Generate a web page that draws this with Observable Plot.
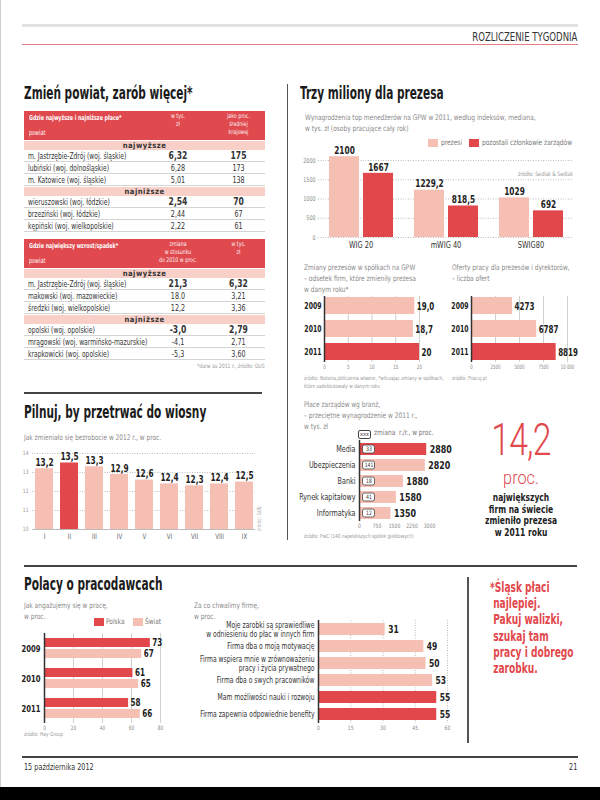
<!DOCTYPE html>
<html><head><meta charset="utf-8">
<script src="https://cdn.jsdelivr.net/npm/d3@7"></script>
<script src="https://cdn.jsdelivr.net/npm/@observablehq/plot@0.6"></script>
<style>
html,body{margin:0;padding:0;background:#fff;}
#page{position:relative;width:600px;height:800px;overflow:hidden;background:#fff;font-family:'DejaVu Sans Condensed','Liberation Sans',sans-serif;color:#333;}
</style></head>
<body><div id="page"></div>
<script>
const F = "'DejaVu Sans Condensed','Liberation Sans',sans-serif";
const RED = "#e2474c", PINK = "#f6bfb4", BAND = "#f8d0c8", HEAD = "#e04a4f";

// ---------- DATA ----------
// Tabela 1: najwyższe i najniższe płace
const placeNajwyzszePowiat = ["m. Jastrzębie-Zdrój (woj. śląskie)", "lubiński (woj. dolnośląskie)", "m. Katowice (woj. śląskie)"];
const placeNajwyzszeTys = ["6,32", "6,28", "5,01"];
const placeNajwyzszeProc = ["175", "173", "138"];
const placeNajnizszePowiat = ["wieruszowski (woj. łódzkie)", "brzeziński (woj. łódzkie)", "kępiński (woj. wielkopolskie)"];
const placeNajnizszeTys = ["2,54", "2,44", "2,22"];
const placeNajnizszeProc = ["70", "67", "61"];
// Tabela 2: największy wzrost / spadek
const wzrostPowiat = ["m. Jastrzębie-Zdrój (woj. śląskie)", "makowski (woj. mazowieckie)", "średzki (woj. wielkopolskie)"];
const wzrostZmiana = ["21,3", "18.0", "12,2"];
const wzrostTys = ["6,32", "3,21", "3,36"];
const spadekPowiat = ["opolski (woj. opolskie)", "mrągowski (woj. warmińsko-mazurskie)", "krapkowicki (woj. opolskie)"];
const spadekZmiana = ["-3,0", "-4,1", "-5,3"];
const spadekTys = ["2,79", "2,71", "3,60"];

// Trzy miliony dla prezesa
const wigIndeksy = ["WIG 20", "mWIG 40", "SWIG80"];
const wigSerie = ["prezesi", "pozostali członkowie zarządów"];
const wigPrezesi = [2100, 1229.2, 1029];
const wigPozostali = [1667, 818.5, 692];
const wigTicks = [0, 500, 1000, 1500, 2000];

// Zmiany prezesów
const zmianyLata = ["2009", "2010", "2011"];
const zmianyOdsetek = [19.0, 18.7, 20];
const zmianyEtykiety = ["19,0", "18,7", "20"];
const zmianyTicks = [0, 5, 10, 15, 20];

// Oferty pracy
const ofertyLata = ["2009", "2010", "2011"];
const ofertyLiczba = [4273, 6787, 8819];
const ofertyTicks = [0, 2500, 5000, 7500, 10000];

// Bezrobocie 2012
const miesiace = ["I", "II", "III", "IV", "V", "VI", "VII", "VIII", "IX"];
const bezrobocie = [13.2, 13.5, 13.3, 12.9, 12.6, 12.4, 12.3, 12.4, 12.5];
const bezrobocieWyroznione = ["II"];
const bezrobocieTicks = [10, 11, 12, 13, 14];

// Płace zarządów wg branż
const branze = ["Media", "Ubezpieczenia", "Banki", "Rynek kapitałowy", "Informatyka"];
const branzePlace = [2880, 2820, 1880, 1580, 1350];
const branzeZmiana = [33, 141, 18, 41, 12];
const branzeTicks = [0, 750, 1500, 2250, 3000];

// Jak angażujemy się w pracę
const zaangLata = ["2009", "2010", "2011"];
const zaangSerie = ["Polska", "Świat"];
const zaangPolska = [73, 61, 58];
const zaangSwiat = [67, 65, 66];
const zaangTicks = [0, 20, 40, 60, 80];

// Za co chwalimy firmę
const pochwaly = ["Moje zarobki są sprawiedliwe\nw odniesieniu do płac w innych firm", "Firma dba o moją motywację", "Firma wspiera mnie w zrównoważeniu\npracy i życia prywatnego", "Firma dba o swych pracowników", "Mam możliwości nauki i rozwoju", "Firma zapewnia odpowiednie benefity"];
const pochwalyProc = [31, 49, 50, 53, 55, 55];
const pochwalyWyroznione = [false, false, false, false, true, true];
const pochwalyTicks = [0, 15, 30, 45, 60];

// ---------- HELPERS ----------
const page = document.getElementById("page");
function box(css) { const d = document.createElement("div"); d.style.cssText = "position:absolute;" + css; page.appendChild(d); return d; }
function txt(s, o) {
  const lh = o.lh || o.size * 1.15;
  const d = document.createElement("div");
  d.textContent = s;
  let css = `position:absolute;white-space:pre;font-size:${o.size}px;line-height:${lh}px;color:${o.color || "#333"};font-weight:${o.weight || "normal"};top:${o.cy - lh / 2}px;`;
  if (o.left != null) css += `left:${o.left}px;`;
  if (o.right != null) css += `right:${o.right}px;text-align:right;`;
  if (o.width != null) css += `width:${o.width}px;`;
  if (o.align) css += `text-align:${o.align};`;
  if (o.sx) css += `transform:scaleX(${o.sx});transform-origin:${o.right != null ? "right" : (o.align === "center" ? "center" : "left")} center;`;
  if (o.family) css += `font-family:${o.family};`;
  if (o.extra) css += o.extra;
  d.style.cssText = css;
  page.appendChild(d);
  return d;
}
function lines(arr, o) { const lh = o.lh || o.size * 1.15; arr.forEach((s, i) => txt(s, {...o, cy: o.cy + i * lh})); }
function put(svg, left, top) { svg.style.position = "absolute"; svg.style.left = left + "px"; svg.style.top = top + "px"; page.appendChild(svg); return svg; }
function styleAxis(svg, prefix, css) { svg.querySelectorAll(`g[aria-label^="${prefix}"] text`).forEach(t => Object.assign(t.style, css)); }
// narrow the glyphs of every SVG text (the reference uses a condensed face)
function condense(svg, f) {
  svg.querySelectorAll("text").forEach(t => {
    const spans = t.querySelectorAll("tspan");
    const targets = spans.length ? Array.from(spans) : [t];
    targets.forEach(el => {
      const L = el.getComputedTextLength();
      if (L > 0) { el.setAttribute("textLength", (L * f).toFixed(2)); el.setAttribute("lengthAdjust", "spacingAndGlyphs"); }
    });
  });
}
const baseStyle = {fontFamily: F, fontSize: "7px", color: "#777", background: "transparent", overflow: "visible"};
const comma = v => String(v).replace(".", ",");
const SUBSX = 0.86;

// ---------- PAGE FRAME ----------
box("left:0;top:0;width:1px;height:787px;background:#cfcfcf;");
box("left:22px;top:24px;width:556px;height:3px;background:#e2e2e2;");
box("left:22px;top:44px;width:556px;height:1px;background:#e77b7e;");
txt("ROZLICZENIE TYGODNIA", {right: 23, cy: 37, size: 12.5, color: "#333", sx: 0.76});
box("left:287px;top:84px;width:1px;height:456px;background:#555;");
box("left:24px;top:392px;width:238px;height:1.5px;background:#444;");
box("left:24px;top:565px;width:553px;height:1.5px;background:#444;");
box("left:467px;top:577px;width:1.5px;height:166px;background:#555;");
box("left:22px;top:756px;width:556px;height:2px;background:#444;");
txt("15 października 2012", {left: 24, cy: 767, size: 9, color: "#333", sx: 0.8});
txt("21", {right: 23, cy: 767, size: 9, color: "#333", sx: 0.8});
box("left:0;top:787px;width:600px;height:13px;background:#000;");

const titleOpts = {size: 17, lh: 19, weight: "bold", color: "#1b1b1b", sx: 0.69};
txt("Zmień powiat, zarób więcej*", {...titleOpts, left: 24, cy: 93});
txt("Trzy miliony dla prezesa", {...titleOpts, left: 300, cy: 93});
txt("Pilnuj, by przetrwać do wiosny", {...titleOpts, left: 24, cy: 412});
txt("Polacy o pracodawcach", {...titleOpts, left: 24, cy: 584});

// ---------- TABLES ----------
function cell(text, css) { const d = document.createElement("div"); d.textContent = text; d.style.cssText = css; return d; }
function buildTable(top, head, groups) {
  const wrap = box(`left:24px;top:${top}px;width:241px;`);
  const h = document.createElement("div");
  h.style.cssText = `position:relative;height:29px;background:${HEAD};color:#fff;`;
  h.append(
    cell(head.title, "position:absolute;left:5px;top:3px;font-size:6.8px;font-weight:bold;white-space:nowrap;transform:scaleX(0.78);transform-origin:left center;"),
    cell("powiat", "position:absolute;left:5px;bottom:3px;font-size:6.8px;transform:scaleX(0.8);transform-origin:left center;"),
    cell(head.col2, "position:absolute;left:120px;width:68px;top:2px;font-size:6.4px;line-height:7.8px;text-align:center;white-space:pre;opacity:.92;transform:scaleX(0.82);"),
    cell(head.col3, "position:absolute;left:188px;width:53px;top:2px;font-size:6.4px;line-height:7.8px;text-align:center;white-space:pre;opacity:.92;transform:scaleX(0.82);")
  );
  wrap.appendChild(h);
  groups.forEach(g => {
    wrap.appendChild(cell(g.name, `margin-top:1px;height:9px;line-height:9.5px;background:${BAND};text-align:center;font-size:7.6px;font-weight:bold;color:#333;letter-spacing:0.5px;`));
    g.names.forEach((n, i) => {
      const r = document.createElement("div");
      r.style.cssText = "display:flex;align-items:center;height:12px;box-sizing:border-box;border-bottom:1px solid #d4d4d4;font-size:8.4px;color:#333;";
      const bold = i === 0 ? "font-weight:bold;font-size:10px;" : "";
      r.append(
        cell(n, "width:115px;padding-left:5px;white-space:nowrap;transform:scaleX(0.8);transform-origin:left center;"),
        cell(g.c2[i], `width:68px;text-align:center;transform:scaleX(0.85);${bold}`),
        cell(g.c3[i], `width:53px;text-align:center;transform:scaleX(0.85);${bold}`)
      );
      wrap.appendChild(r);
    });
  });
}
buildTable(111, {title: "Gdzie najwyższe i najniższe płace*", col2: "w tys.\nzł", col3: "jako proc.\nśredniej\nkrajowej"}, [
  {name: "najwyższe", names: placeNajwyzszePowiat, c2: placeNajwyzszeTys, c3: placeNajwyzszeProc},
  {name: "najniższe", names: placeNajnizszePowiat, c2: placeNajnizszeTys, c3: placeNajnizszeProc}
]);
buildTable(239, {title: "Gdzie największy wzrost/spadek*", col2: "zmiana\nw stosunku\ndo 2010 w proc.", col3: "w tys.\nzł"}, [
  {name: "najwyższe", names: wzrostPowiat, c2: wzrostZmiana, c3: wzrostTys},
  {name: "najniższe", names: spadekPowiat, c2: spadekZmiana, c3: spadekTys}
]);
txt("*dane za 2011 r., źródło: GUS", {right: 335, cy: 366, size: 6, color: "#999", sx: 0.85});

// ---------- CHART A: Trzy miliony ----------
const subOpts = {size: 7.6, lh: 11, color: "#8a8a8a", sx: SUBSX};
lines(["Wynagrodzenia top menedżerów na GPW w 2011, według indeksów, mediana,", "w tys. zł (osoby pracujące cały rok)"], {...subOpts, left: 305, cy: 117});
box(`left:428px;top:139px;width:10px;height:8px;background:${PINK};`);
txt("prezesi", {left: 441, cy: 143, size: 7.6, color: "#777", sx: SUBSX});
box(`left:469px;top:139px;width:10px;height:8px;background:${RED};`);
txt("pozostali członkowie zarządów", {left: 482, cy: 143, size: 7.6, color: "#777", sx: SUBSX});
txt("źródło: Sedlak & Sedlak", {right: 27, cy: 174, size: 6, color: "#999", sx: SUBSX});

const rowsA = wigIndeksy.flatMap((k, i) => [
  {indeks: k, seria: wigSerie[0], v: wigPrezesi[i]},
  {indeks: k, seria: wigSerie[1], v: wigPozostali[i]}
]);
const svgA = Plot.plot({
  width: 283, height: 113, marginLeft: 23, marginRight: 5, marginTop: 20, marginBottom: 16,
  style: baseStyle,
  facet: {data: rowsA, x: "indeks"},
  fx: {domain: wigIndeksy, padding: 0, axis: "bottom", label: null, tickSize: 0, tickPadding: 4},
  x: {domain: wigSerie, paddingInner: 0.12, paddingOuter: 0.3, axis: null},
  y: {domain: [0, 2000], ticks: wigTicks, tickSize: 0, tickPadding: 3, label: null, tickFormat: d => String(d)},
  color: {domain: wigSerie, range: [PINK, RED]},
  marks: [
    Plot.ruleY(wigTicks, {stroke: "#aaa", strokeWidth: 0.8, strokeDasharray: "1,1.5"}),
    Plot.barY(rowsA, {x: "seria", y: "v", fill: "seria"}),
    Plot.text(rowsA, {x: "seria", y: "v", text: d => comma(d.v), dy: -6, fontWeight: "bold", fontSize: 10, fill: "#222"})
  ]
});
styleAxis(svgA, "fx-axis", {fontSize: "9px", fill: "#333"});
styleAxis(svgA, "y-axis", {fontSize: "6.5px", fill: "#888"});
put(svgA, 295, 140); condense(svgA, 0.82);

// ---------- CHART B: Zmiany prezesów ----------
lines(["Zmiany prezesów w spółkach na GPW", "– odsetek firm, które zmieniły prezesa", "w danym roku*"], {...subOpts, left: 304, cy: 267});
lines(["źródło: Notoria,obliczenia własne, *wliczając zmiany w spółkach,", "które zadebiutowały w danym roku"], {left: 304, cy: 378, size: 5.6, lh: 8.5, color: "#999", sx: SUBSX});
const rowsB = zmianyLata.map((r, i) => ({rok: r, v: zmianyOdsetek[i], label: zmianyEtykiety[i]}));
const svgB = Plot.plot({
  width: 144, height: 82, marginLeft: 29, marginRight: 20, marginTop: 4, marginBottom: 12,
  style: baseStyle,
  x: {domain: [0, 20], ticks: zmianyTicks, tickSize: 0, tickPadding: 2, label: null},
  y: {domain: zmianyLata, paddingInner: 0.26, paddingOuter: 0.06, tickSize: 0, tickPadding: 3, label: null},
  color: {domain: zmianyLata, range: [PINK, PINK, RED]},
  marks: [
    Plot.ruleX(zmianyTicks.slice(1), {stroke: "#d0d0d0"}),
    Plot.barX(rowsB, {x: "v", y: "rok", fill: "rok"}),
    Plot.ruleX([0], {stroke: "#333", strokeWidth: 1.5}),
    Plot.text(rowsB, {x: "v", y: "rok", text: "label", dx: 2, textAnchor: "start", fontWeight: "bold", fontSize: 11, fill: "#222"})
  ]
});
styleAxis(svgB, "y-axis", {fontSize: "9.5px", fontWeight: "bold", fill: "#222"});
styleAxis(svgB, "x-axis", {fontSize: "6px", fill: "#888"});
put(svgB, 295, 292); condense(svgB, 0.72);

// ---------- CHART C: Oferty pracy ----------
lines(["Oferty pracy dla prezesów i dyrektorów,", "– liczba ofert"], {...subOpts, left: 452, cy: 267});
txt("źródło: Pracuj.pl", {left: 452, cy: 378, size: 5.6, color: "#999", sx: SUBSX});
const rowsC = ofertyLata.map((r, i) => ({rok: r, v: ofertyLiczba[i]}));
const svgC = Plot.plot({
  width: 150, height: 82, marginLeft: 24, marginRight: 30, marginTop: 4, marginBottom: 12,
  style: baseStyle,
  x: {domain: [0, 10000], ticks: ofertyTicks, tickSize: 0, tickPadding: 2, label: null, tickFormat: d => d >= 10000 ? d3.format(",")(d).replace(/,/g, " ") : String(d)},
  y: {domain: ofertyLata, paddingInner: 0.26, paddingOuter: 0.06, tickSize: 0, tickPadding: 3, label: null},
  color: {domain: ofertyLata, range: [PINK, PINK, RED]},
  marks: [
    Plot.ruleX(ofertyTicks.slice(1), {stroke: "#d0d0d0"}),
    Plot.barX(rowsC, {x: "v", y: "rok", fill: "rok"}),
    Plot.ruleX([0], {stroke: "#333", strokeWidth: 1.5}),
    Plot.text(rowsC, {x: "v", y: "rok", text: d => String(d.v), dx: 2, textAnchor: "start", fontWeight: "bold", fontSize: 11, fill: "#222"})
  ]
});
styleAxis(svgC, "y-axis", {fontSize: "9.5px", fontWeight: "bold", fill: "#222"});
styleAxis(svgC, "x-axis", {fontSize: "6px", fill: "#888"});
put(svgC, 447, 292); condense(svgC, 0.72);

// ---------- CHART D: Bezrobocie ----------
txt("Jak zmieniało się bezrobocie w 2012 r., w proc.", {...subOpts, left: 24, cy: 437});
txt("źródło: GUS", {left: 259, cy: 531, size: 5.5, color: "#aaa", extra: "transform:rotate(-90deg) scaleX(0.85);transform-origin:left center;"});
const rowsD = miesiace.map((m, i) => ({m, v: bezrobocie[i], w: bezrobocieWyroznione.includes(m) ? "tak" : "nie"}));
const svgD = Plot.plot({
  width: 260, height: 98, marginLeft: 32, marginRight: 5, marginTop: 8, marginBottom: 14,
  style: baseStyle,
  x: {domain: miesiace, paddingInner: 0.29, paddingOuter: 0.06, tickSize: 0, tickPadding: 4, label: null},
  y: {domain: [10, 14], clamp: true, ticks: bezrobocieTicks, tickSize: 0, tickPadding: 4, label: null, tickFormat: d => String(d)},
  color: {domain: ["nie", "tak"], range: [PINK, RED]},
  marks: [
    Plot.ruleY(bezrobocieTicks.slice(1), {stroke: "#aaa", strokeWidth: 0.8, strokeDasharray: "1,1.5"}),
    Plot.ruleY([10], {stroke: "#bbb"}),
    Plot.barY(rowsD, {x: "m", y: "v", fill: "w"}),
    Plot.text(rowsD, {x: "m", y: "v", text: d => comma(d.v), dy: -6, fontWeight: "bold", fontSize: 10, fill: "#222"})
  ]
});
styleAxis(svgD, "x-axis", {fontSize: "7.5px", fill: "#666"});
styleAxis(svgD, "y-axis", {fontSize: "6px", fill: "#999"});
put(svgD, 0, 445); condense(svgD, 0.82);

// ---------- CHART E: Płace zarządów ----------
lines(["Płace zarządów wg branż,", "– przeciętne wynagrodzenie w 2011 r.,", "w tys. zł"], {...subOpts, left: 304, cy: 404});
txt("xxx", {left: 358, cy: 433, size: 5.5, lh: 7, color: "#333", width: 13, align: "center", extra: "border:0.8px solid #444;border-radius:2px;box-sizing:border-box;"});
txt("zmiana  r./r., w proc.", {left: 374, cy: 433, size: 7.6, color: "#777", sx: SUBSX});
txt("źródło: PwC (140 największych spółek giełdowych)", {left: 304, cy: 536, size: 5.6, color: "#999", sx: SUBSX});
const rowsE = branze.map((b, i) => ({b, v: branzePlace[i], z: branzeZmiana[i]}));
const svgE = Plot.plot({
  width: 169, height: 95, marginLeft: 64, marginRight: 35, marginTop: 4, marginBottom: 10,
  style: baseStyle,
  x: {domain: [0, 3000], ticks: branzeTicks, tickSize: 0, tickPadding: 2, label: null, tickFormat: d => String(d)},
  y: {domain: branze, paddingInner: 0.25, paddingOuter: 0.1, tickSize: 0, tickPadding: 4, label: null},
  color: {domain: branze, range: [RED, PINK, PINK, PINK, PINK]},
  marks: [
    Plot.barX(rowsE, {x: "v", y: "b", fill: "b"}),
    Plot.barX(rowsE, {x1: 0, x2: 0, y: "b", insetLeft: 3.5, insetRight: -15.5, insetTop: 2, insetBottom: 2, rx: 2, fill: "white", stroke: "#444", strokeWidth: 0.8}),
    Plot.text(rowsE, {x: 0, y: "b", text: d => String(d.z), dx: 9.5, fontSize: 6, fill: "#333"}),
    Plot.ruleX([0], {stroke: "#333", strokeWidth: 1.5}),
    Plot.text(rowsE, {x: "v", y: "b", text: d => String(d.v), dx: 3, textAnchor: "start", fontWeight: "bold", fontSize: 10.5, fill: "#222"})
  ]
});
styleAxis(svgE, "y-axis", {fontSize: "8.5px", fill: "#333"});
styleAxis(svgE, "x-axis", {fontSize: "6px", fill: "#888"});
put(svgE, 295, 436); condense(svgE, 0.84);

// 14,2 proc.
txt("14,2", {left: 471, width: 100, align: "center", cy: 440, size: 45, lh: 34, color: RED, weight: 300, family: "Roboto,'Open Sans',sans-serif", sx: 0.75, extra: "letter-spacing:-1px;"});
txt("proc.", {left: 471, width: 100, align: "center", cy: 478, size: 18.5, lh: 16, color: RED, weight: 300, family: "Roboto,'Open Sans',sans-serif", sx: 0.88});
lines(["największych", "firm na świecie", "zmieniło prezesa", "w 2011 roku"], {left: 471, width: 100, align: "center", cy: 498, size: 10.5, lh: 11.5, weight: "bold", color: "#222", sx: 0.8});

// ---------- CHART F: Jak angażujemy się ----------
lines(["Jak angażujemy się w pracę,", "w proc."], {...subOpts, left: 24, cy: 605});
box(`left:94px;top:618px;width:10px;height:8px;background:${RED};`);
txt("Polska", {left: 106, cy: 622, size: 7.6, color: "#777", sx: SUBSX});
box(`left:133px;top:618px;width:10px;height:8px;background:${PINK};`);
txt("Świat", {left: 145, cy: 622, size: 7.6, color: "#777", sx: SUBSX});
txt("źródło: Hay Group", {left: 24, cy: 734, size: 5.6, color: "#999", sx: SUBSX});
const rowsF = zaangLata.flatMap((r, i) => [
  {rok: r, s: zaangSerie[0], v: zaangPolska[i]},
  {rok: r, s: zaangSerie[1], v: zaangSwiat[i]}
]);
const svgF = Plot.plot({
  width: 176, height: 106, marginLeft: 44, marginRight: 16, marginTop: 4, marginBottom: 10,
  style: baseStyle,
  facet: {data: rowsF, y: "rok"},
  fy: {domain: zaangLata, padding: 0, axis: "left", label: null, tickSize: 0, tickPadding: 4},
  y: {domain: zaangSerie, paddingInner: 0.17, paddingOuter: 0.35, axis: null},
  x: {domain: [0, 80], ticks: zaangTicks, tickSize: 0, tickPadding: 2, label: null},
  color: {domain: zaangSerie, range: [RED, PINK]},
  marks: [
    Plot.ruleX(zaangTicks.slice(1), {stroke: "#d0d0d0"}),
    Plot.barX(rowsF, {x: "v", y: "s", fill: "s"}),
    Plot.ruleX([0], {stroke: "#333", strokeWidth: 1.5}),
    Plot.text(rowsF, {x: "v", y: "s", text: d => String(d.v), dx: 2, textAnchor: "start", fontWeight: "bold", fontSize: 10, fill: "#222"})
  ]
});
styleAxis(svgF, "fy-axis", {fontSize: "9.5px", fontWeight: "bold", fill: "#222"});
styleAxis(svgF, "x-axis", {fontSize: "6px", fill: "#888"});
put(svgF, 0, 628); condense(svgF, 0.8);

// ---------- CHART G: Za co chwalimy firmę ----------
lines(["Za co chwalimy firmę,", "w proc."], {...subOpts, left: 194, cy: 605});
const rowsG = pochwaly.map((p, i) => ({p, v: pochwalyProc[i], h: pochwalyWyroznione[i] ? "tak" : "nie"}));
const svgG = Plot.plot({
  width: 275, height: 117, marginLeft: 128, marginRight: 18, marginTop: 4, marginBottom: 10,
  style: baseStyle,
  x: {domain: [0, 60], ticks: pochwalyTicks, tickSize: 0, tickPadding: 2, label: null},
  y: {domain: pochwaly, paddingInner: 0.27, paddingOuter: 0.13, axis: null},
  color: {domain: ["nie", "tak"], range: [PINK, RED]},
  marks: [
    Plot.ruleX(pochwalyTicks.slice(1), {stroke: "#aaa", strokeWidth: 0.8, strokeDasharray: "1,1.5"}),
    Plot.barX(rowsG, {x: "v", y: "p", fill: "h"}),
    Plot.ruleX([0], {stroke: "#333", strokeWidth: 1.5}),
    Plot.text(rowsG, {x: 0, y: "p", text: "p", dx: -4, textAnchor: "end", fontSize: 8, lineHeight: 1.1, fill: "#333"}),
    Plot.text(rowsG, {x: "v", y: "p", text: d => String(d.v), dx: 3, textAnchor: "start", fontWeight: "bold", fontSize: 10, fill: "#222"})
  ]
});
styleAxis(svgG, "x-axis", {fontSize: "6px", fill: "#888"});
put(svgG, 190, 616); condense(svgG, 0.84);

// ---------- Red note ----------
lines(["*Śląsk płaci", " najlepiej.", " Pakuj walizki,", " szukaj tam", " pracy i dobrego", " zarobku."], {left: 490, cy: 587, size: 14, lh: 16.3, weight: "bold", color: RED, sx: 0.72});
</script>
</body></html>
